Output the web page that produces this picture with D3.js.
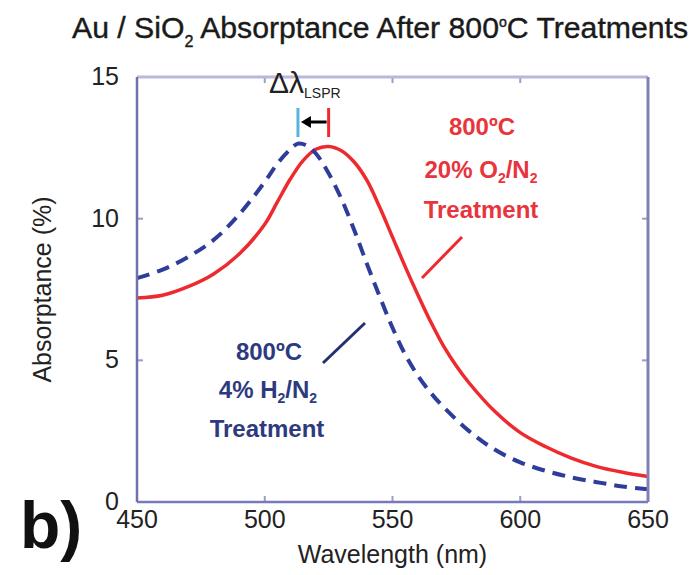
<!DOCTYPE html>
<html>
<head>
<meta charset="utf-8">
<script src="https://cdn.jsdelivr.net/npm/d3@7"></script>
<style>
  body { margin: 0; background: #fff; }
  text { font-family: "Liberation Sans", Arial, sans-serif; }
  .note { font-family: Lato, "Open Sans", sans-serif; font-weight: 700; }
</style>
</head>
<body>
<div id="chart"></div>
<script>
// wavelength grid (nm) and absorptance (%) for each treatment
var o2Wavelengths = [450,460,470,480,490,500,505,510,515,520,525,530,535,540,545,550,555,560,565,570,575,580,590,600,610,620,630,640,650];
var o2Values = [7.2,7.3,7.6,8.05,8.75,9.8,10.6,11.4,12.05,12.45,12.55,12.4,12.0,11.35,10.4,9.35,8.3,7.3,6.35,5.5,4.8,4.2,3.2,2.45,1.95,1.55,1.25,1.05,0.9];

var h2Wavelengths = [450,460,470,480,490,500,505,510,513,516,520,525,530,535,540,545,550,555,560,565,570,580,590,600,610,620,630,640,650];
var h2Values = [7.9,8.2,8.65,9.25,10.15,11.3,11.95,12.45,12.65,12.6,12.3,11.6,10.7,9.6,8.4,7.25,6.15,5.2,4.45,3.85,3.35,2.5,1.85,1.4,1.1,0.87,0.7,0.55,0.45];

var xTicks = [450,500,550,600,650];
var yTicks = [0,5,10,15];
var peakH2 = 513, peakO2 = 525;

var param = {
  width : 695,
  height : 575,
  left : 137,
  right : 648,
  top : 77,
  bottom : 502
};

var svg = d3.select("#chart").append("svg")
            .attr("width", param.width)
            .attr("height", param.height);

var x = d3.scaleLinear().domain([450, 650]).range([param.left, param.right]);
var y = d3.scaleLinear().domain([0, 15]).range([param.bottom, param.top]);

// title
var title = svg.append("text")
   .attr("x", 72).attr("y", 38)
   .style("font-size", "30px")
   .attr("textLength", 616)
   .attr("lengthAdjust", "spacingAndGlyphs")
   .style("fill", "#1a1a1a")
   .style("stroke", "#1a1a1a")
   .style("stroke-width", 0.4);
title.append("tspan").text("Au / SiO");
title.append("tspan").attr("dy", 9).style("font-size", "16px").text("2");
title.append("tspan").attr("dy", -9).text(" Absorptance After 800");
title.append("tspan").attr("dy", -11).style("font-size", "14px").text("o");
title.append("tspan").attr("dy", 11).text("C  Treatments");

// ticks (inward on all four sides)
var tickCol = "#9c9cc4";
xTicks.slice(1, -1).forEach(function(t) {
  svg.append("line").attr("x1", x(t)).attr("x2", x(t))
     .attr("y1", param.bottom).attr("y2", param.bottom - 6)
     .style("stroke", tickCol).style("stroke-width", 2);
  svg.append("line").attr("x1", x(t)).attr("x2", x(t))
     .attr("y1", param.top).attr("y2", param.top + 6)
     .style("stroke", tickCol).style("stroke-width", 2);
});
yTicks.slice(1, -1).forEach(function(t) {
  svg.append("line").attr("x1", param.left).attr("x2", param.left + 6)
     .attr("y1", y(t)).attr("y2", y(t))
     .style("stroke", tickCol).style("stroke-width", 2);
  svg.append("line").attr("x1", param.right).attr("x2", param.right - 6)
     .attr("y1", y(t)).attr("y2", y(t))
     .style("stroke", tickCol).style("stroke-width", 2);
});

// tick labels
svg.selectAll(".xlab").data(xTicks).enter().append("text")
   .attr("x", function(d) { return x(d); })
   .attr("y", 528)
   .style("text-anchor", "middle")
   .style("font-size", "25px")
   .style("fill", "#222")
   .text(function(d) { return d; });

svg.selectAll(".ylab").data(yTicks).enter().append("text")
   .attr("x", 119)
   .attr("y", function(d) { return y(d) + 8; })
   .style("text-anchor", "end")
   .style("font-size", "25px")
   .style("fill", "#222")
   .text(function(d) { return d; });

svg.append("text")
   .attr("x", x(550)).attr("y", 563)
   .style("text-anchor", "middle")
   .style("font-size", "25px")
   .style("fill", "#222")
   .text("Wavelength (nm)");

svg.append("text")
   .attr("transform", "translate(51," + ((param.top + param.bottom) / 2) + ") rotate(-90)")
   .style("text-anchor", "middle")
   .style("font-size", "25px")
   .style("fill", "#222")
   .text("Absorptance (%)");

svg.append("text")
   .attr("x", 20).attr("y", 548)
   .style("font-size", "66px")
   .style("font-weight", "bold")
   .style("fill", "#111")
   .text("b)");

// curves
var line = d3.line()
             .x(function(d) { return x(d[0]); })
             .y(function(d) { return y(d[1]); })
             .curve(d3.curveCatmullRom.alpha(0.5));

svg.append("path")
   .datum(d3.zip(o2Wavelengths, o2Values))
   .attr("d", line)
   .style("fill", "none")
   .style("stroke", "#ee2a2e")
   .style("stroke-width", 3.5);

svg.append("path")
   .datum(d3.zip(h2Wavelengths, h2Values))
   .attr("d", line)
   .style("fill", "none")
   .style("stroke", "#2e3d9a")
   .style("stroke-width", 4)
   .style("stroke-dasharray", "13,8");

// frame
svg.append("line").attr("x1", param.left).attr("x2", param.right)
   .attr("y1", param.top).attr("y2", param.top)
   .style("stroke", "#b8b8dc").style("stroke-width", 3);
svg.append("line").attr("x1", param.left).attr("x2", param.right)
   .attr("y1", param.bottom).attr("y2", param.bottom)
   .style("stroke", "#7878bc").style("stroke-width", 2.5);
svg.append("line").attr("x1", param.left).attr("x2", param.left)
   .attr("y1", param.top).attr("y2", param.bottom)
   .style("stroke", "#7272aa").style("stroke-width", 2.5);
svg.append("line").attr("x1", param.right).attr("x2", param.right)
   .attr("y1", param.top).attr("y2", param.bottom)
   .style("stroke", "#8080b4").style("stroke-width", 3);

// delta lambda marker
var markTop = 108, markBot = 137, markMid = 122;
svg.append("line").attr("x1", x(peakH2)).attr("x2", x(peakH2))
   .attr("y1", markTop).attr("y2", markBot)
   .style("stroke", "#55b4e0").style("stroke-width", 3);
svg.append("line").attr("x1", x(peakO2)).attr("x2", x(peakO2))
   .attr("y1", markTop).attr("y2", markBot)
   .style("stroke", "#ee2a2e").style("stroke-width", 3);
svg.append("line").attr("x1", x(peakO2) - 2).attr("x2", x(peakH2) + 10)
   .attr("y1", markMid).attr("y2", markMid)
   .style("stroke", "#000").style("stroke-width", 3);
svg.append("path")
   .attr("d", "M" + (x(peakH2) + 3) + "," + markMid + " l10,-6 l0,12 z")
   .style("fill", "#000");

var dl = svg.append("text").attr("x", 269).attr("y", 93)
            .style("font-size", "30px").style("fill", "#222");
dl.append("tspan").text("Δλ");
dl.append("tspan").attr("dy", 5).style("font-size", "14px").text("LSPR");

// annotations
var o2Note = svg.append("g").attr("class", "note").style("fill", "#e8343c").style("text-anchor", "middle");
o2Note.append("text").attr("x", 482).attr("y", 135).style("font-size", "24px")
      .text("800ºC");
var t2 = o2Note.append("text").attr("x", 481).attr("y", 178).style("font-size", "24px");
t2.append("tspan").text("20% O");
t2.append("tspan").attr("dy", 5).style("font-size", "14px").text("2");
t2.append("tspan").attr("dy", -5).text("/N");
t2.append("tspan").attr("dy", 5).style("font-size", "14px").text("2");
o2Note.append("text").attr("x", 481).attr("y", 218).style("font-size", "24px")
      .text("Treatment");
svg.append("line").attr("x1", 422).attr("y1", 278).attr("x2", 462).attr("y2", 237)
   .style("stroke", "#ee2a2e").style("stroke-width", 3);

var h2Note = svg.append("g").attr("class", "note").style("fill", "#2e3a80").style("text-anchor", "middle");
h2Note.append("text").attr("x", 269).attr("y", 360).style("font-size", "24px")
      .text("800ºC");
var t3 = h2Note.append("text").attr("x", 268).attr("y", 398).style("font-size", "24px");
t3.append("tspan").text("4% H");
t3.append("tspan").attr("dy", 5).style("font-size", "14px").text("2");
t3.append("tspan").attr("dy", -5).text("/N");
t3.append("tspan").attr("dy", 5).style("font-size", "14px").text("2");
h2Note.append("text").attr("x", 267).attr("y", 437).style("font-size", "24px")
      .text("Treatment");
svg.append("line").attr("x1", 323).attr("y1", 363).attr("x2", 365).attr("y2", 323)
   .style("stroke", "#25306e").style("stroke-width", 3);
</script>
</body>
</html>
